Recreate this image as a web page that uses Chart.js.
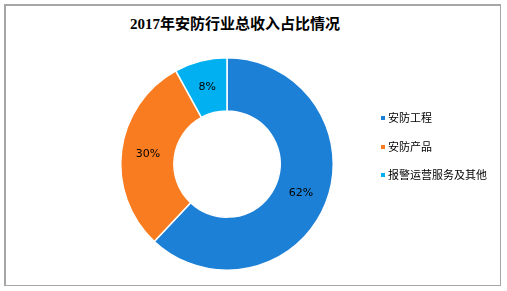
<!DOCTYPE html>
<html>
<head>
<meta charset="utf-8">
<script src="https://cdn.jsdelivr.net/npm/chart.js@4/dist/chart.umd.min.js"></script>
<style>
  body { margin: 0; background: #fff; }
  #wrap { position: relative; width: 507px; height: 291px; }
  #frame { position: absolute; left: 4px; top: 4px; width: 497px; height: 282px; border: 2px solid #a6a6a6; border-right-width: 1px; border-bottom-width: 1px; box-sizing: border-box; }
  #title { position: absolute; left: 0; width: 470px; top: 12px; text-align: center;
    font: bold 15px "Liberation Serif", "Noto Sans CJK SC", serif; color: #000; }
  #legend { position: absolute; left: 381px; top: 109px; font: 11px "Noto Sans CJK SC", sans-serif; color: #000; }
  #legend div { height: 28.5px; }
  #legend span.box { display: inline-block; width: 4px; height: 4px; margin-right: 3px; vertical-align: middle; position: relative; top: -1px; }
  canvas { position: absolute; left: 0; top: 0; }
</style>
</head>
<body>
<div id="wrap">
  <div id="frame"></div>
  <div id="title">2017年安防行业总收入占比情况</div>
  <canvas id="myChart" width="507" height="291"></canvas>
  <div id="legend"></div>
</div>
<script>
const labels = ['安防工程', '安防产品', '报警运营服务及其他'];
const values = [62, 30, 8];
const colors = ['rgb(28, 128, 214)', 'rgb(250, 124, 32)', 'rgb(0, 176, 240)'];

// legend as plain html
let legend = document.getElementById('legend');
labels.forEach(function(name, i) {
  let row = document.createElement('div');
  row.innerHTML = '<span class="box" style="background:' + colors[i] + '"></span>' + name;
  legend.appendChild(row);
});

// percent labels in the middle of each ring piece
const sliceLabels = {
  id: 'sliceLabels',
  afterDatasetsDraw(chart) {
    let ctx = chart.ctx;
    ctx.save();
    ctx.font = '11px "DejaVu Sans", sans-serif';
    ctx.fillStyle = '#000';
    ctx.textAlign = 'center';
    ctx.textBaseline = 'middle';
    chart.getDatasetMeta(0).data.forEach(function(arc, i) {
      let p = arc.tooltipPosition();
      ctx.fillText(values[i] + '%', p.x, p.y);
    });
    ctx.restore();
  }
};

const ctx = document.getElementById('myChart');
new Chart(ctx, {
  type: 'doughnut',
  data: {
    labels: labels,
    datasets: [{
      data: values,
      backgroundColor: colors,
      borderColor: '#fff',
      borderWidth: 1.5,
    }]
  },
  options: {
    responsive: false,
    animation: false,
    cutout: '50%',
    layout: { padding: { left: 120, right: 173, top: 57, bottom: 20 } },
    plugins: {
      legend: { display: false },
      tooltip: { enabled: false }
    }
  },
  plugins: [sliceLabels]
});
</script>
</body>
</html>
